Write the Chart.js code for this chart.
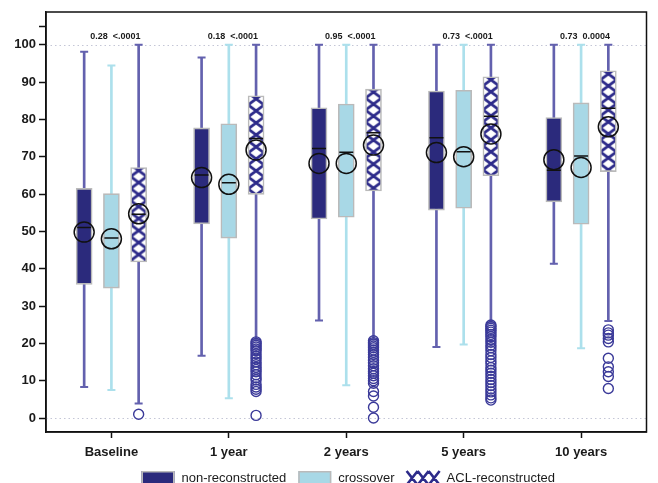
<!DOCTYPE html>
<html>
<head>
<meta charset="utf-8">
<title>Score by group over time</title>
<script src="https://cdn.jsdelivr.net/npm/chart.js@4.4.1/dist/chart.umd.min.js"></script>
<style>
    html, body { margin: 0; padding: 0; background: #fff; }
    #wrap { position: relative; width: 658px; height: 483px; }
</style>
</head>
<body>
<div id="wrap"><canvas id="chart"></canvas></div>
<script>
    "use strict";

    // Data
    const categories = ['Baseline', '1 year', '2 years', '5 years', '10 years'];
    const pLabels = ['0.28  <.0001', '0.18  <.0001', '0.95  <.0001', '0.73  <.0001', '0.73  0.0004'];
    const yTicks = [0, 10, 20, 30, 40, 50, 60, 70, 80, 90, 100, 105];

    const nonMin = [8.3, 16.7, 26.1, 19.0, 41.3];
    const nonQ1 = [35.8, 52.0, 53.3, 55.7, 57.9];
    const nonMedian = [51.0, 65.1, 72.2, 75.1, 66.4];
    const nonQ3 = [61.5, 77.7, 83.1, 87.6, 80.5];
    const nonMax = [98.1, 96.6, 100, 100, 100];
    const nonMean = [49.8, 64.4, 68.2, 71.1, 69.2];

    const crossMin = [7.5, 5.3, 8.8, 19.7, 18.7];
    const crossQ1 = [34.8, 48.2, 53.8, 56.2, 51.9];
    const crossMedian = [48.2, 63.0, 71.2, 71.3, 70.2];
    const crossQ3 = [60.1, 78.8, 84.1, 87.8, 84.4];
    const crossMax = [94.4, 100, 100, 100, 100];
    const crossMean = [48.0, 62.6, 68.2, 70.0, 67.1];

    const aclMin = [3.9, 21.0, 21.0, 25.5, 26.0];
    const aclQ1 = [41.8, 59.9, 60.8, 64.9, 66.0];
    const aclMedian = [54.6, 74.9, 76.4, 80.8, 83.0];
    const aclQ3 = [67.1, 86.3, 88.1, 91.4, 93.0];
    const aclMax = [100, 100, 100, 100, 100];
    const aclMean = [54.7, 71.8, 73.1, 76.1, 78.0];

    // ACL-reconstructed outliers, one list per time point
    const aclOutliers = [
        [1.0],
        [20.4, 20.0, 19.5, 19.0, 18.5, 18.0, 17.2, 16.5, 15.8, 15.0, 14.3, 13.6, 13.0, 12.4, 11.6, 10.8, 10.2, 9.0, 8.3, 7.7, 7.1, 0.7],
        [20.7, 20.2, 19.8, 19.3, 18.8, 18.2, 17.6, 17.0, 16.3, 15.5, 14.8, 14.0, 13.2, 12.5, 12.0, 11.3, 10.6, 10.0, 9.3, 7.1, 5.9, 2.9, 0.0],
        [24.9, 24.5, 24.0, 23.5, 23.0, 22.4, 21.8, 21.0, 20.3, 19.5, 18.8, 18.0, 17.0, 16.2, 15.3, 14.5, 13.5, 12.8, 12.0, 11.2, 10.3, 9.5, 8.7, 7.8, 7.0, 6.2, 5.4, 4.8],
        [23.6, 22.8, 22.2, 21.3, 20.4, 16.0, 13.7, 12.4, 11.1, 7.9]
    ];

    // Styles
    const NAVY = '#2b2a7c';
    const LIGHT = '#a8d8e6';
    const WHISKER_DARK = '#6361ae';
    const WHISKER_LIGHT = '#ace0ec';
    const BOX_EDGE = '#bababa';
    const OUTLIER = '#3b3a99';
    const HATCH = '#2d2b8a';
    const BOX_W = 16;

    // Diamond hatch aligned to each box
    const hatchTile = document.createElement('canvas');
    hatchTile.width = BOX_W;
    hatchTile.height = 12;
    (function () {
        const t = hatchTile.getContext('2d');
        t.fillStyle = '#fff';
        t.fillRect(0, 0, hatchTile.width, hatchTile.height);
        t.strokeStyle = HATCH;
        t.lineWidth = 2.8;
        t.beginPath();
        t.moveTo(0, 0); t.lineTo(hatchTile.width, hatchTile.height);
        t.moveTo(hatchTile.width, 0); t.lineTo(0, hatchTile.height);
        t.stroke();
    })();

    const hatchFill = function (ctx) {
        if (!ctx.raw || !ctx.chart.scales.x) {
            return '#fff';
        }
        const pattern = ctx.chart.ctx.createPattern(hatchTile, 'repeat');
        const left = ctx.chart.scales.x.getPixelForValue(ctx.raw.x) - BOX_W / 2;
        const top = ctx.chart.scales.y.getPixelForValue(ctx.raw.y[1]);
        pattern.setTransform(new DOMMatrix().translate(left, top - 3));
        return pattern;
    };

    const series = [
        { label: 'non-reconstructed', min: nonMin, q1: nonQ1, median: nonMedian, q3: nonQ3, max: nonMax, mean: nonMean,
          fill: NAVY, whisker: WHISKER_DARK, shift: -0.232 },
        { label: 'crossover', min: crossMin, q1: crossQ1, median: crossMedian, q3: crossQ3, max: crossMax, mean: crossMean,
          fill: LIGHT, whisker: WHISKER_LIGHT, shift: 0 },
        { label: 'ACL-reconstructed', min: aclMin, q1: aclQ1, median: aclMedian, q3: aclQ3, max: aclMax, mean: aclMean,
          fill: hatchFill, whisker: WHISKER_DARK, shift: 0.232, outliers: aclOutliers }
    ];

    const datasets = [];
    series.forEach(function (s) {
        const pos = categories.map((c, i) => i + s.shift);

        // whisker stems
        datasets.push({
            type: 'bar', label: s.label + ' whisker', order: 50, grouped: false,
            data: pos.map((x, i) => ({ x: x, y: [s.min[i], s.max[i]] })),
            backgroundColor: s.whisker, barThickness: 2, maxBarThickness: 2
        });
        // whisker caps
        datasets.push({
            type: 'scatter', label: s.label + ' caps', order: 45,
            data: pos.flatMap((x, i) => [{ x: x, y: s.min[i] }, { x: x, y: s.max[i] }]),
            pointStyle: 'line', pointRadius: 4, borderColor: s.whisker, borderWidth: 2
        });
        // boxes
        datasets.push({
            type: 'bar', label: s.label, order: 40, grouped: false,
            data: pos.map((x, i) => ({ x: x, y: [s.q1[i], s.q3[i]] })),
            backgroundColor: s.fill, borderColor: BOX_EDGE, borderWidth: 1.6, borderSkipped: false,
            barThickness: BOX_W, maxBarThickness: BOX_W
        });
        // medians
        datasets.push({
            type: 'scatter', label: s.label + ' median', order: 30,
            data: pos.map((x, i) => ({ x: x, y: s.median[i] })),
            pointStyle: 'line', pointRadius: BOX_W / 2 - 1, borderColor: '#111', borderWidth: 1.5
        });
        // means
        datasets.push({
            type: 'scatter', label: s.label + ' mean', order: 20,
            data: pos.map((x, i) => ({ x: x, y: s.mean[i] })),
            pointStyle: 'circle', pointRadius: 10, borderColor: '#111', borderWidth: 1.5,
            backgroundColor: 'rgba(0,0,0,0)'
        });
        // outliers
        if (s.outliers) {
            datasets.push({
                type: 'scatter', label: s.label + ' outliers', order: 10,
                data: pos.flatMap((x, i) => s.outliers[i].map(v => ({ x: x, y: v }))),
                pointStyle: 'circle', pointRadius: 5, borderColor: OUTLIER, borderWidth: 1.4,
                backgroundColor: 'rgba(0,0,0,0)'
            });
        }
    });

    // Dotted reference lines at 0 and 100
    const refLines = {
        id: 'refLines',
        beforeDatasetsDraw: function (chart) {
            const ctx = chart.ctx, a = chart.chartArea, y = chart.scales.y;
            ctx.save();
            ctx.strokeStyle = '#c4c6d6';
            ctx.lineWidth = 1;
            ctx.setLineDash([1.5, 3]);
            [0, 100].forEach(function (v) {
                const py = Math.round(y.getPixelForValue(v)) + 0.5;
                ctx.beginPath();
                ctx.moveTo(a.left, py);
                ctx.lineTo(a.right, py);
                ctx.stroke();
            });
            ctx.restore();
        }
    };

    // p-values above each time point
    const pValues = {
        id: 'pValues',
        afterDatasetsDraw: function (chart) {
            const ctx = chart.ctx, x = chart.scales.x;
            ctx.save();
            ctx.font = 'bold 9px "Liberation Sans", Arial, sans-serif';
            ctx.fillStyle = '#1a1a1a';
            ctx.textAlign = 'center';
            ctx.textBaseline = 'middle';
            pLabels.forEach(function (t, i) {
                ctx.fillText(t, x.getPixelForValue(i) + 4, 37);
            });
            ctx.restore();
        }
    };

    // Frame and legend
    const frameLegend = {
        id: 'frameLegend',
        afterDraw: function (chart) {
            const ctx = chart.ctx, a = chart.chartArea;
            ctx.save();
            ctx.strokeStyle = '#111';
            ctx.lineWidth = 1.5;
            ctx.strokeRect(a.left, a.top, a.right - a.left, a.bottom - a.top);

            ctx.font = '13px "Liberation Sans", Arial, sans-serif';
            const boxW = 33, boxH = 14, gapText = 7, gapItem = 12, top = 471;
            const widths = series.map(s => boxW + gapText + ctx.measureText(s.label).width);
            const total = widths.reduce((p, w) => p + w, 0) + gapItem * (series.length - 1);
            let left = (a.left + a.right) / 2 - total / 2 + 2;
            series.forEach(function (s, i) {
                if (typeof s.fill === 'string') {
                    ctx.fillStyle = s.fill;
                    ctx.fillRect(left, top, boxW, boxH);
                    ctx.strokeStyle = BOX_EDGE;
                    ctx.lineWidth = 1.5;
                    ctx.strokeRect(left + 0.75, top + 0.75, boxW - 1.5, boxH - 1.5);
                } else {
                    ctx.fillStyle = '#fff';
                    ctx.fillRect(left, top, boxW, boxH);
                    ctx.strokeStyle = HATCH;
                    ctx.lineWidth = 2.6;
                    ctx.beginPath();
                    for (let k = 0; k < 3; k++) {
                        const x0 = left + k * boxW / 3;
                        ctx.moveTo(x0, top); ctx.lineTo(x0 + boxW / 3, top + boxH);
                        ctx.moveTo(x0 + boxW / 3, top); ctx.lineTo(x0, top + boxH);
                    }
                    ctx.stroke();
                }
                ctx.fillStyle = '#1a1a1a';
                ctx.textAlign = 'left';
                ctx.textBaseline = 'middle';
                ctx.fillText(s.label, left + boxW + gapText, top + 7);
                left += widths[i] + gapItem;
            });
            ctx.restore();
        }
    };

    Chart.defaults.font.family = '"Liberation Sans", Arial, sans-serif';
    Chart.defaults.color = '#1a1a1a';

    new Chart(document.getElementById('chart'), {
        type: 'bar',
        data: { datasets: datasets },
        options: {
            responsive: true,
            maintainAspectRatio: false,
            animation: false,
            events: [],
            layout: { padding: { top: 12, right: 6, left: 0, bottom: 0 } },
            plugins: {
                legend: { display: false },
                tooltip: { enabled: false }
            },
            scales: {
                x: {
                    type: 'linear',
                    min: -0.557,
                    max: 4.557,
                    offset: false,
                    afterBuildTicks: axis => { axis.ticks = categories.map((c, i) => ({ value: i })); },
                    afterFit: axis => { axis.height = 51; },
                    ticks: {
                        callback: v => categories[v],
                        autoSkip: false, maxRotation: 0, padding: 7,
                        font: { size: 13, weight: 'bold' }
                    },
                    grid: { offset: false, drawOnChartArea: false, drawTicks: true, tickLength: 6, tickColor: '#111', tickWidth: 1.5 },
                    border: { display: true, color: '#111', width: 1.5 }
                },
                y: {
                    type: 'linear',
                    min: -3.75,
                    max: 108.76,
                    afterBuildTicks: axis => { axis.ticks = yTicks.map(v => ({ value: v })); },
                    afterFit: axis => { axis.width = 46; },
                    ticks: {
                        callback: v => (v === 105 ? '' : v),
                        padding: 3,
                        font: { size: 13, weight: 'bold' }
                    },
                    grid: { drawOnChartArea: false, drawTicks: true, tickLength: 7, tickColor: '#111', tickWidth: 1.5 },
                    border: { display: true, color: '#111', width: 1.5 }
                }
            }
        },
        plugins: [refLines, pValues, frameLegend]
    });
</script>
</body>
</html>
